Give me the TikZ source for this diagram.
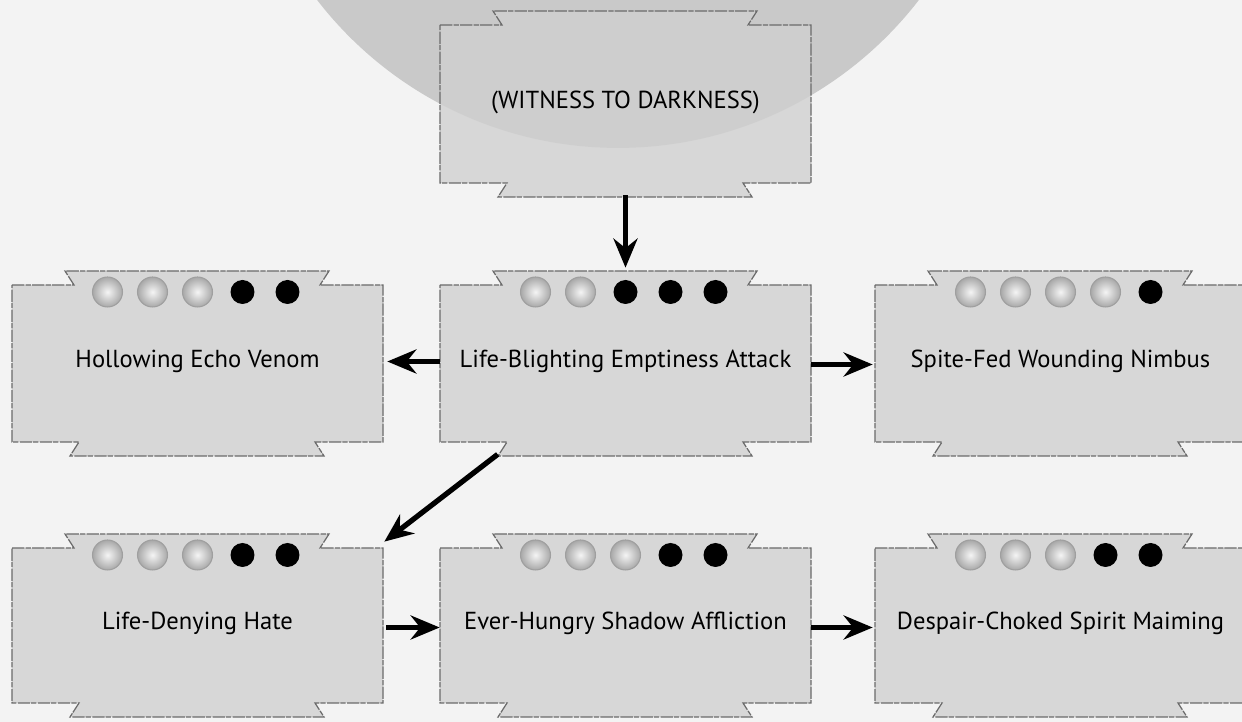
\documentclass[tikz,border=0pt]{standalone}
\usepackage{fontspec}
\setmainfont{PT Sans}
\usetikzlibrary{arrows.meta,calc,shadings}
\definecolor{wdpaper}{HTML}{F3F3F3}
\definecolor{wdmoon}{HTML}{C9C9C9}
\definecolor{wdplate}{HTML}{D0D0D0}
\definecolor{wdedge}{HTML}{6A6A6A}
\definecolor{wdsilver}{HTML}{A8A8A8}

% notched plate, from its top left corner (x, y) and its height
\newcommand{\plateoutline}[3]{%
  \draw[plate] (#1,#2) -- ++(62,0) -- ++(-9,-14) -- ++(264,0) -- ++(-9,14) -- ++(63,0)
    -- ++(0,#3) -- ++(-68,0) -- ++(9,14) -- ++(-254,0) -- ++(9,-14) -- ++(-67,0) -- cycle;}

\tikzset{
  plate/.style={fill=wdplate,fill opacity=0.8,draw=wdedge,line width=0.7pt,
    dash pattern=on 7pt off 0.8pt on 3pt off 0.6pt},
  platetext/.style={inner sep=0pt,minimum width=7.42cm,font=\fontsize{14}{16}\selectfont},
  link/.style={-{Stealth[length=5.8mm,width=4.8mm,inset=1.9mm]},line width=3pt},
}

\begin{document}
\begin{tikzpicture}[x=0.02cm,y=-0.02cm]
  \useasboundingbox (0,0) rectangle (1242,722);
  \clip (0,0) rectangle (1242,722);
  \fill[wdpaper] (0,0) rectangle (1242,722);
  \fill[wdmoon] (618,-232) circle[radius=7.6cm];
  % top plate
  \plateoutline{440}{25}{158}
  \node[platetext,minimum height=3.16cm] (witness) at (625.5,102) {(WITNESS TO DARKNESS)};
  % plates with their power dots
  \foreach \nm/\x/\y/\h/\s/\lab in {
      hollow/12/285/157/3/{Hollowing Echo Venom},
      blight/440/285/157/2/{Life-Blighting Emptiness Attack},
      spite/875/285/157/4/{Spite-Fed Wounding Nimbus},
      denying/12/548/155/3/{Life-Denying Hate},
      hungry/440/548/155/3/{Ever-Hungry Shadow Affliction},
      despair/875/548/155/3/{Despair-Choked Spirit Maiming}}{
    \plateoutline{\x}{\y}{\h}
    \node[platetext,minimum height=\h*0.02cm] (\nm) at ({\x+185.5},{\y+\h/2-2}) {\lab};
    \foreach \i in {1,...,5}{
      \ifnum\i>\s
        \fill[black] ({\x+185.5+(\i-3)*45},{\y+7}) circle[radius=0.24cm];
      \else
        \shade[inner color=white!92!gray,outer color=wdsilver] ({\x+185.5+(\i-3)*45},{\y+7}) circle[radius=0.3cm];
        \draw[gray!75,line width=0.6pt] ({\x+185.5+(\i-3)*45},{\y+7}) circle[radius=0.3cm];
      \fi
    }
  }
  % arrows
  \draw[link] ([yshift=-0.28cm]witness.south) -- ([yshift=0.3cm]blight.north);
  \draw[link,shorten >=0.08cm] (blight.west) -- (hollow.east);
  \draw[link,shorten >=0.04cm] ([yshift=-0.06cm]blight.east) -- ([yshift=-0.06cm]spite.west);
  \draw[link] ($(blight.south west)+(58,14)$) -- ($(denying.north east)+(1,-4)$);
  \draw[link,shorten <=0.06cm] ([yshift=-0.08cm]denying.east) -- ([yshift=-0.08cm]hungry.west);
  \draw[link,shorten >=0.04cm] ([yshift=-0.08cm]hungry.east) -- ([yshift=-0.08cm]despair.west);
\end{tikzpicture}
\end{document}
